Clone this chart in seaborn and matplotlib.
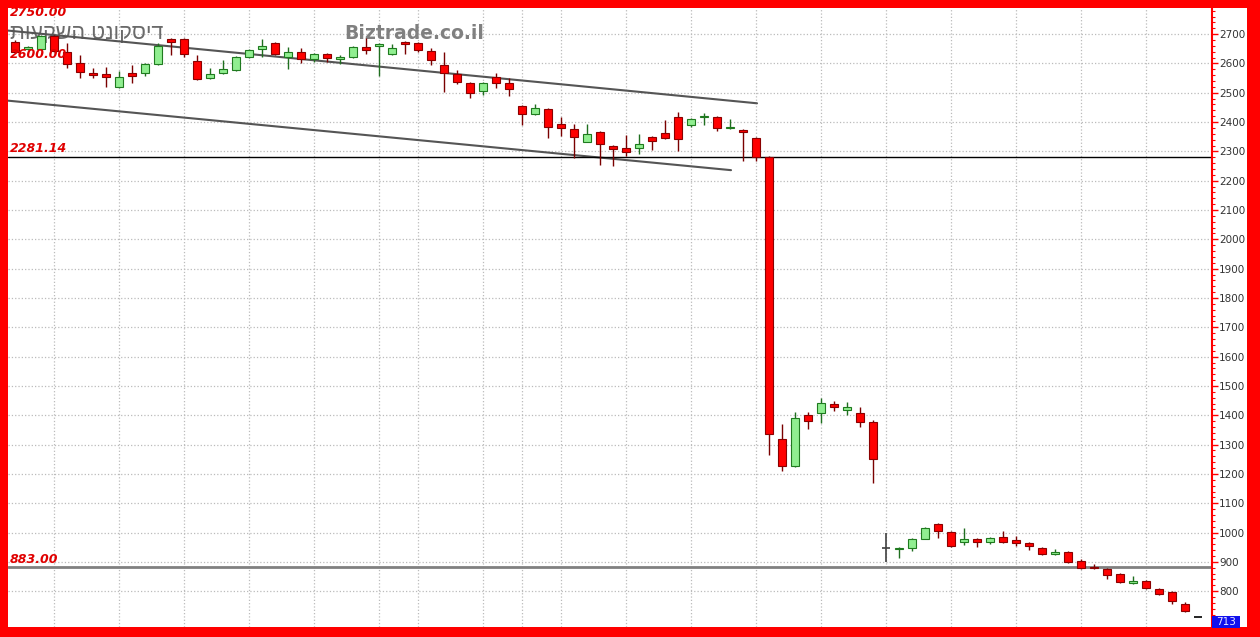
import numpy as np
import matplotlib
matplotlib.use('Agg')
import matplotlib.pyplot as plt
import matplotlib.transforms as mtransforms
from matplotlib.patches import Rectangle
from matplotlib.ticker import MultipleLocator
import seaborn as sns

# Daily candles
opens = [2673, 2649, 2649, 2693, 2639, 2601, 2567, 2564, 2519, 2567,
         2567, 2598, 2683, 2683, 2608, 2550, 2567, 2577, 2622, 2649,
         2669, 2622, 2639, 2615, 2632, 2615, 2622, 2656, 2659, 2632,
         2673, 2669, 2642, 2594, 2564, 2533, 2506, 2553, 2533, 2455,
         2427, 2444, 2393, 2376, 2332, 2366, 2318, 2311, 2311, 2349,
         2362, 2417, 2390, 2417, 2417, 2380, 2373, 2345, 2281, 1319,
         1227, 1401, 1408, 1439, 1418, 1408, 1377, 948, 945, 948,
         979, 1030, 1003, 969, 979, 969, 986, 976, 965, 948,
         928, 934, 904, 883, 877, 860, 829, 836, 808, 798,
         757, 713]
closes = [2639, 2656, 2693, 2642, 2598, 2570, 2560, 2553, 2553, 2557,
          2598, 2659, 2673, 2632, 2547, 2564, 2581, 2622, 2645, 2659,
          2632, 2639, 2615, 2632, 2618, 2622, 2656, 2645, 2666, 2652,
          2666, 2645, 2611, 2567, 2536, 2499, 2533, 2533, 2512, 2427,
          2448, 2383, 2380, 2349, 2359, 2325, 2308, 2298, 2325, 2335,
          2345, 2342, 2410, 2420, 2380, 2383, 2366, 2281, 1336, 1227,
          1391, 1381, 1442, 1428, 1428, 1377, 1251, 948, 948, 979,
          1016, 1006, 955, 979, 969, 982, 969, 965, 955, 928,
          934, 900, 880, 880, 856, 832, 836, 812, 791, 767,
          733, 713]
highs = [2680, 2660, 2697, 2697, 2669, 2628, 2584, 2587, 2574, 2594,
         2600, 2669, 2686, 2686, 2628, 2584, 2611, 2625, 2648, 2683,
         2672, 2656, 2652, 2635, 2635, 2628, 2660, 2686, 2669, 2666,
         2676, 2672, 2652, 2639, 2577, 2536, 2536, 2567, 2550, 2458,
         2461, 2448, 2417, 2393, 2393, 2369, 2321, 2356, 2359, 2352,
         2407, 2434, 2414, 2431, 2420, 2410, 2376, 2348, 2285, 1370,
         1411, 1411, 1459, 1449, 1445, 1428, 1384, 999, 951, 982,
         1020, 1033, 1006, 1016, 982, 986, 1006, 989, 969, 951,
         945, 938, 911, 894, 880, 863, 852, 839, 812, 801,
         764, 713]
lows = [2636, 2645, 2645, 2640, 2584, 2550, 2550, 2519, 2515, 2533,
        2557, 2595, 2628, 2622, 2545, 2547, 2565, 2574, 2620, 2622,
        2630, 2581, 2601, 2605, 2605, 2598, 2618, 2632, 2557, 2630,
        2632, 2640, 2594, 2502, 2530, 2482, 2492, 2516, 2489, 2390,
        2424, 2346, 2352, 2277, 2332, 2253, 2250, 2284, 2291, 2304,
        2342, 2301, 2383, 2390, 2369, 2376, 2267, 2267, 1265, 1210,
        1225, 1353, 1374, 1415, 1401, 1360, 1169, 900, 915, 938,
        979, 982, 952, 958, 952, 962, 965, 955, 941, 925,
        925, 897, 877, 877, 842, 829, 826, 809, 788, 757,
        730, 713]

# vertical date grid (candle index) and price scale
grid_days = [3, 8, 13, 18, 23, 28, 31, 36, 39, 42, 47, 52, 57, 62, 67, 72, 77, 82, 87]
price_ticks = list(range(800, 2800, 100))

# trend channel
upper_x = [-0.54, 57.08]
upper_y = [2712, 2464]
lower_x = [-0.54, 55.08]
lower_y = [2473, 2236]

support_level = 2281.14
bottom_level = 883.0
last_price = 713
level_labels = ['2750.00', '2600.00', '2281.14', '883.00']
level_label_y = [2763, 2618, 2298, 897]

sns.set_style('white')

fig = plt.figure(figsize=(12.6, 6.37), dpi=100, facecolor='#ff0000')
ax = fig.add_axes([8 / 1260, 10 / 637, 1204 / 1260, 619 / 637])
ax.set_facecolor('white')

# white strip behind the price scale
fig.add_artist(Rectangle((1212 / 1260, 10 / 637), 35 / 1260, 619 / 637,
                         transform=fig.transFigure, facecolor='white',
                         edgecolor='none', zorder=-1))

o = np.array(opens)
c = np.array(closes)
h = np.array(highs)
l = np.array(lows)
x = np.arange(len(o))
up = c > o
down = c < o
flat = c == o
body_w = 0.62
bottom = np.minimum(o, c)
height = np.maximum(np.abs(c - o), 3)

# watermarks
ax.text(-0.38, 2683, 'תועקשה טנוקסיד', family=['Liberation Sans', 'DejaVu Sans'],
        fontsize=15.5, color='#6a6a6a', zorder=1)
ax.text(25.3, 2683, 'Biztrade.co.il', fontsize=13.5, fontweight='bold',
        color='#808080', zorder=1)

# channel and levels
sns.lineplot(x=upper_x, y=upper_y, ax=ax, color='#555555', lw=1.5, zorder=2)
sns.lineplot(x=lower_x, y=lower_y, ax=ax, color='#555555', lw=1.5, zorder=2)
ax.axhline(support_level, color='black', lw=1, zorder=2)
ax.axhline(bottom_level, color='#808080', lw=2, zorder=2)

# candles
ax.vlines(x[up], l[up], h[up], color='#1f6f1f', lw=1, zorder=3)
ax.vlines(x[down], l[down], h[down], color='#7a0000', lw=1, zorder=3)
ax.vlines(x[flat], l[flat], h[flat], color='#404040', lw=1.2, zorder=3)
ax.bar(x[up], height[up], body_w, bottom=bottom[up], color='#90ee90',
       edgecolor='#1f7a1f', lw=0.8, zorder=4)
ax.bar(x[down], height[down], body_w, bottom=bottom[down], color='#ff0000',
       edgecolor='#8b0000', lw=0.8, zorder=4)
flat_colors = ['#000000' if i == len(o) - 1 else '#404040' for i in x[flat]]
ax.hlines(c[flat], x[flat] - body_w / 2, x[flat] + body_w / 2,
          colors=flat_colors, lw=1.2, zorder=4)

for lab, yv in zip(level_labels, level_label_y):
    t = ax.text(-0.38, yv, lab, color='#e00000', fontsize=9, fontweight='bold',
                fontstyle='italic', zorder=5)
    t.set_clip_path(ax.patch)
    t.set_clip_on(True)

ax.set_xlim(-0.54, 92.08)
ax.set_ylim(678, 2789)
ax.set_xlabel('')
ax.set_ylabel('')
ax.yaxis.tick_right()
ax.set_yticks(price_ticks)
ax.yaxis.set_minor_locator(MultipleLocator(20))
ax.tick_params(axis='y', which='major', colors='#ff0000', labelcolor='#333333',
               length=4, width=1, labelsize=7.5, pad=1)
ax.tick_params(axis='y', which='minor', colors='#ff0000', length=2, width=0.8)
ax.set_xticks(grid_days)
ax.tick_params(axis='x', length=0, labelbottom=False)
ax.grid(True, which='major', color='#bbbbbb', linestyle=':', linewidth=0.9)
ax.set_axisbelow(True)
for s in ['left', 'top', 'bottom']:
    ax.spines[s].set_visible(False)
ax.spines['right'].set_color('#ff0000')
ax.spines['right'].set_linewidth(1.5)

# last price tag
trans = mtransforms.blended_transform_factory(ax.transAxes, ax.transData)
ax.add_patch(Rectangle((1.0, 675), 0.0233, 41, transform=trans,
                       facecolor='#1010ee', edgecolor='none', clip_on=False, zorder=6))
ax.text(1.0116, 695.5, str(last_price), transform=trans, color='#e8e8ff',
        fontsize=7.5, ha='center', va='center', clip_on=False, zorder=7)

fig.savefig('out.png', dpi=100, facecolor=fig.get_facecolor())
